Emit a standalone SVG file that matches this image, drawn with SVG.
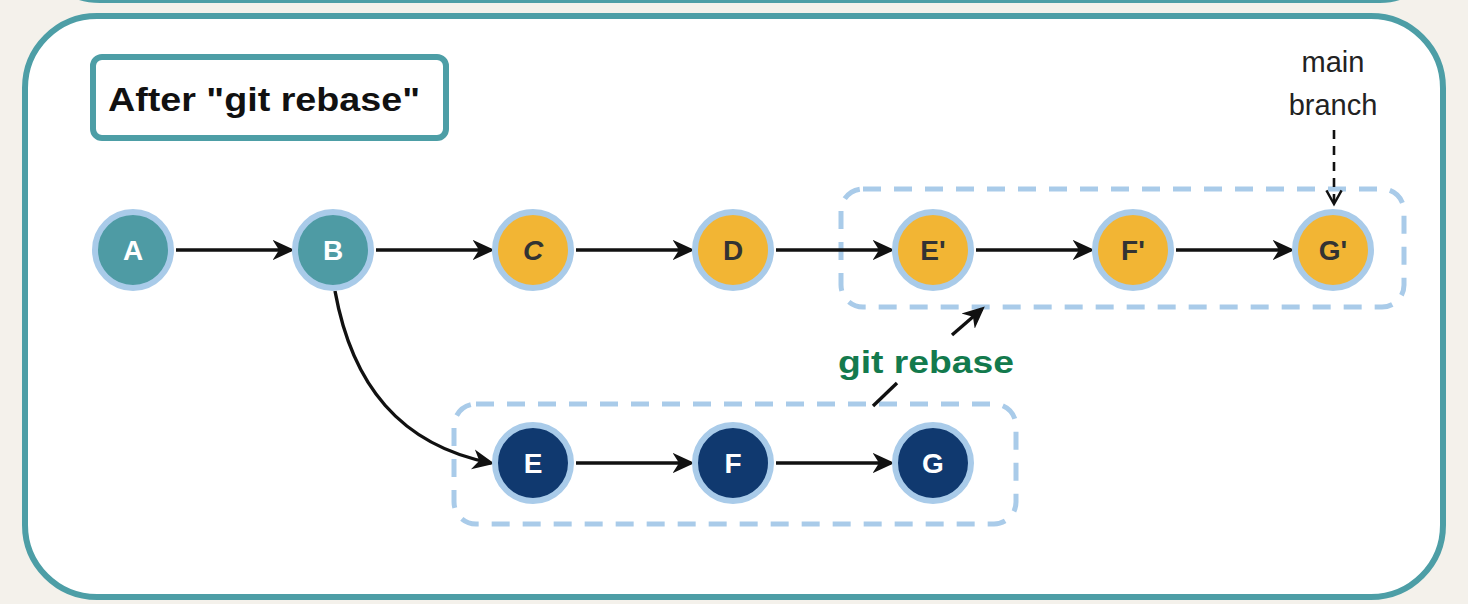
<svg xmlns="http://www.w3.org/2000/svg" width="1468" height="604" viewBox="0 0 1468 604">
  <defs>
    <marker id="arr" viewBox="0 0 12 12" refX="10" refY="6" markerWidth="6.5" markerHeight="6.5" orient="auto" markerUnits="strokeWidth">
      <path d="M0,0.5 L12,6 L0,11.5 L3.5,6 Z" fill="#111"/>
    </marker>
    <marker id="open" viewBox="0 0 12 12" refX="10" refY="6" markerWidth="7" markerHeight="7" orient="auto" markerUnits="strokeWidth">
      <path d="M1,1 L10,6 L1,11" fill="none" stroke="#111" stroke-width="1.6"/>
    </marker>
  </defs>
  <style>
    .ring { stroke: #a9cbe9; stroke-width: 6; }
    .teal { fill: #4e9ba4; }
    .yel { fill: #f2b534; }
    .navy { fill: #10396f; }
    .lbl { font-family: "Liberation Sans", Arial, sans-serif; font-weight: bold; font-size: 28px; text-anchor: middle; }
    .wt { fill: #ffffff; }
    .dk { fill: #333333; }
    .edge { stroke: #111; stroke-width: 3.4; fill: none; marker-end: url(#arr); }
    .grp { fill: none; stroke: #a9cbe9; stroke-width: 5; stroke-dasharray: 18 13; }
  </style>
  <rect width="1468" height="604" fill="#f4f1eb"/>
  <path d="M 55 -30 Q 62 1 100 1 H 1380 Q 1415 1 1425 -30" fill="#ffffff" stroke="#4d9ea6" stroke-width="4"/>
  <rect x="25" y="16" width="1418" height="581" rx="72" fill="#ffffff" stroke="#4d9ea6" stroke-width="6"/>

  <g id="title">
    <rect x="93" y="57" width="353" height="81" rx="9" fill="#ffffff" stroke="#4d9ea6" stroke-width="6"/>
    <text x="108" y="111" font-family="Liberation Sans, Arial, sans-serif" font-weight="bold" font-size="33" textLength="312" lengthAdjust="spacingAndGlyphs" fill="#111">After "git rebase"</text>
  </g>

  <g id="groups">
    <rect id="group-rebased" class="grp" x="841" y="189" width="563" height="118" rx="22"/>
    <rect id="group-feature" class="grp" x="454" y="404" width="562" height="120" rx="22"/>
  </g>

  <g id="connectors">
    <line class="edge" x1="176" y1="250" x2="291" y2="250"/>
    <line class="edge" x1="376" y1="250" x2="491" y2="250"/>
    <line class="edge" x1="576" y1="250" x2="691" y2="250"/>
    <line class="edge" x1="776" y1="250" x2="891" y2="250"/>
    <line class="edge" x1="976" y1="250" x2="1091" y2="250"/>
    <line class="edge" x1="1176" y1="250" x2="1291" y2="250"/>
    <path class="edge" d="M 335 291 C 352 385 400 445 491 463"/>
    <line class="edge" x1="576" y1="463" x2="691" y2="463"/>
    <line class="edge" x1="776" y1="463" x2="891" y2="463"/>
    <line x1="1334" y1="130" x2="1334" y2="204" stroke="#111" stroke-width="2.6" stroke-dasharray="9 7" marker-end="url(#open)"/>
    <line x1="873" y1="406" x2="897" y2="383" stroke="#111" stroke-width="3.4"/>
    <line class="edge" x1="952" y1="335" x2="982" y2="309"/>
  </g>

  <g id="node-A"><circle class="teal ring" cx="133" cy="250" r="38"/><text class="lbl wt" x="133" y="260">A</text></g>
  <g id="node-B"><circle class="teal ring" cx="333" cy="250" r="38"/><text class="lbl wt" x="333" y="260">B</text></g>
  <g id="node-C"><circle class="yel ring" cx="533" cy="250" r="38"/><text class="lbl dk" x="533" y="260" font-style="italic">C</text></g>
  <g id="node-D"><circle class="yel ring" cx="733" cy="250" r="38"/><text class="lbl dk" x="733" y="260">D</text></g>
  <g id="node-E2"><circle class="yel ring" cx="933" cy="250" r="38"/><text class="lbl dk" x="933" y="260">E'</text></g>
  <g id="node-F2"><circle class="yel ring" cx="1133" cy="250" r="38"/><text class="lbl dk" x="1133" y="260">F'</text></g>
  <g id="node-G2"><circle class="yel ring" cx="1333" cy="250" r="38"/><text class="lbl dk" x="1333" y="260">G'</text></g>
  <g id="node-E"><circle class="navy ring" cx="533" cy="463" r="38"/><text class="lbl wt" x="533" y="473">E</text></g>
  <g id="node-F"><circle class="navy ring" cx="733" cy="463" r="38"/><text class="lbl wt" x="733" y="473">F</text></g>
  <g id="node-G"><circle class="navy ring" cx="933" cy="463" r="38"/><text class="lbl wt" x="933" y="473">G</text></g>

  <g id="label-main-branch" font-family="Liberation Sans, Arial, sans-serif" font-size="29" fill="#222" text-anchor="middle">
    <text x="1333" y="72">main</text>
    <text x="1333" y="115">branch</text>
  </g>
  <g id="label-git-rebase">
    <text x="926" y="373" font-family="Liberation Sans, Arial, sans-serif" font-weight="bold" font-size="31" fill="#137a4d" text-anchor="middle" textLength="176" lengthAdjust="spacingAndGlyphs">git rebase</text>
  </g>
</svg>
